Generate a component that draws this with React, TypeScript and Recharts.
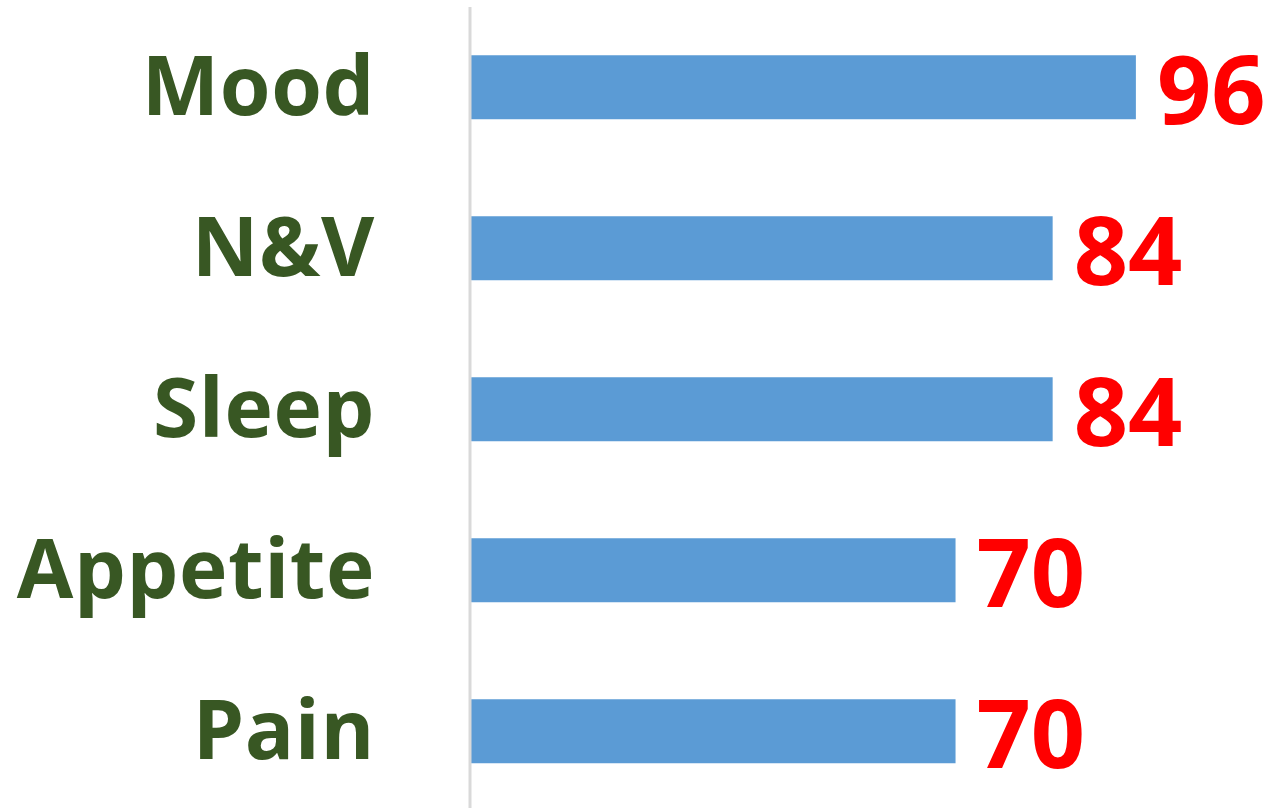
import { BarChart, Bar, XAxis, YAxis, LabelList } from 'recharts'

const categories = ['Mood', 'N&V', 'Sleep', 'Appetite', 'Pain']
const scores = [96, 84, 84, 70, 70]

const data = categories.map((name, i) => ({ name, score: scores[i] }))

const FONT = '"Open Sans", "DejaVu Sans", sans-serif'
const green = '#385723'
const red = '#ff0000'
const barColor = '#5b9bd5'

function CategoryTick(props: any) {
  const { x, y, payload } = props
  return (
    <text x={x} y={y} dy={27} textAnchor="end" fill={green}
      style={{ fontFamily: FONT, fontWeight: 700, fontSize: 82, letterSpacing: 0.6 }}>
      {payload.value}
    </text>
  )
}

function ValueLabel(props: any) {
  const { x, y, width, height, value } = props
  return (
    <text x={x + width + 21} y={y + height / 2 + 37} textAnchor="start" fill={red}
      style={{ fontFamily: FONT, fontWeight: 700, fontSize: 95 }}>
      {value}
    </text>
  )
}

export default function App() {
  return (
    <div style={{ position: 'absolute', left: 0, top: 0, width: 1276, height: 808, overflow: 'hidden', background: '#fff' }}>
      <BarChart
        width={1276}
        height={812}
        data={data}
        layout="vertical"
        margin={{ top: 7, right: 43, bottom: 0, left: 0 }}
        barCategoryGap="30%"
      >
        <XAxis type="number" domain={[0, 110]} hide />
        <YAxis
          type="category"
          dataKey="name"
          width={470}
          axisLine={{ stroke: '#d9d9d9', strokeWidth: 3 }}
          tickLine={false}
          tickSize={0}
          tickMargin={95}
          tick={<CategoryTick />}
          interval={0}
        />
        <Bar dataKey="score" fill={barColor} isAnimationActive={false}>
          <LabelList dataKey="score" content={<ValueLabel />} />
        </Bar>
      </BarChart>
    </div>
  )
}
